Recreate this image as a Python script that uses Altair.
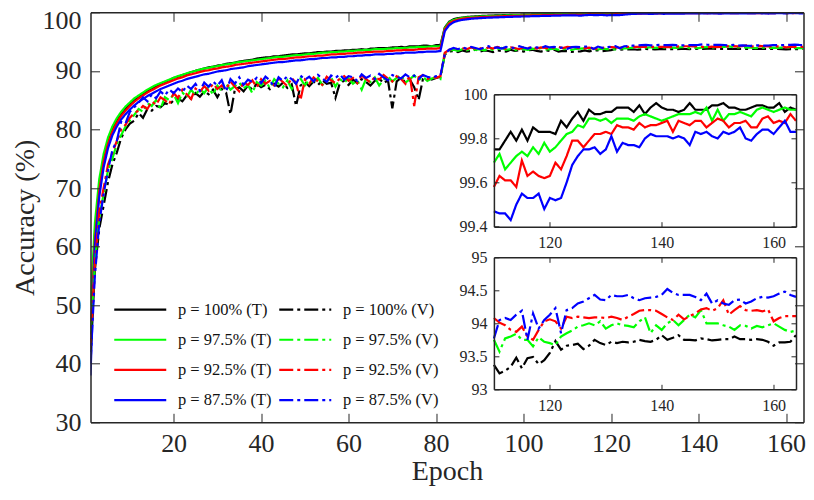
import altair as alt
import pandas as pd

FONT = "Liberation Serif"
AX = "#262626"

epochs = list(range(1, 165))
labels = ["p = 100% (T)", "p = 97.5% (T)", "p = 92.5% (T)", "p = 87.5% (T)",
          "p = 100% (V)", "p = 97.5% (V)", "p = 92.5% (V)", "p = 87.5% (V)"]
colors = ["#000000", "#00ff00", "#ff0000", "#0000ff"] * 2
dashes = [[1, 0]] * 4 + [[14, 4, 3, 4]] * 4

# ---------------- training accuracy ----------------
t100_a = [45.0, 62.0, 70.5, 75.0, 78.0, 80.0, 81.5, 82.6, 83.5, 84.3,
          85.0, 85.6, 86.1, 86.6, 87.0, 87.4, 87.8, 88.1, 88.4, 88.8,
          89.0, 89.3, 89.5, 89.8, 90.0, 90.2, 90.4, 90.6, 90.7, 90.9,
          91.0, 91.2, 91.3, 91.4, 91.6, 91.7, 91.8, 91.9, 92.1, 92.2,
          92.3, 92.3, 92.5, 92.5, 92.6, 92.7, 92.8, 92.8, 92.9, 93.0,
          93.0, 93.1, 93.2, 93.2, 93.3, 93.3, 93.4, 93.4, 93.5, 93.5,
          93.6, 93.6, 93.7, 93.6, 93.8, 93.8, 93.9, 93.9, 93.9, 94.0,
          94.0, 94.1, 94.0, 94.2, 94.2, 94.2, 94.3, 94.3, 94.2, 94.4,
          94.4]
t975_a = [50.0, 64.0, 71.5, 75.8, 78.6, 80.5, 81.9, 83.0, 83.9, 84.6,
          85.3, 85.8, 86.3, 86.8, 87.2, 87.6, 87.9, 88.2, 88.5, 88.8,
          89.1, 89.3, 89.6, 89.8, 90.0, 90.2, 90.4, 90.5, 90.7, 90.8,
          91.0, 91.1, 91.2, 91.4, 91.5, 91.6, 91.7, 91.8, 91.9, 92.0,
          92.1, 92.2, 92.3, 92.4, 92.4, 92.5, 92.6, 92.7, 92.7, 92.8,
          92.9, 92.9, 93.0, 93.1, 93.1, 93.2, 93.2, 93.3, 93.3, 93.4,
          93.4, 93.5, 93.5, 93.6, 93.6, 93.7, 93.7, 93.7, 93.8, 93.8,
          93.9, 93.9, 93.9, 94.0, 94.0, 94.1, 94.1, 94.1, 94.2, 94.2,
          94.2]
t925_a = [44.0, 61.0, 69.5, 74.5, 77.5, 79.6, 81.1, 82.3, 83.2, 84.0,
          84.7, 85.3, 85.8, 86.3, 86.7, 87.1, 87.5, 87.8, 88.1, 88.4,
          88.7, 88.9, 89.2, 89.4, 89.6, 89.8, 90.0, 90.1, 90.3, 90.4,
          90.6, 90.7, 90.8, 91.0, 91.1, 91.2, 91.3, 91.4, 91.5, 91.6,
          91.7, 91.8, 91.9, 92.0, 92.0, 92.1, 92.2, 92.3, 92.3, 92.4,
          92.5, 92.5, 92.6, 92.6, 92.7, 92.8, 92.8, 92.9, 92.9, 93.0,
          93.0, 93.1, 93.1, 93.2, 93.2, 93.3, 93.3, 93.3, 93.4, 93.4,
          93.5, 93.5, 93.6, 93.6, 93.6, 93.7, 93.7, 93.8, 93.8, 93.8,
          93.9]
t875_a = [38.0, 60.0, 68.5, 73.5, 76.8, 79.0, 80.5, 81.7, 82.6, 83.4,
          84.1, 84.7, 85.2, 85.7, 86.1, 86.5, 86.9, 87.2, 87.5, 87.8,
          88.1, 88.3, 88.6, 88.8, 89.0, 89.2, 89.4, 89.5, 89.7, 89.9,
          90.0, 90.1, 90.3, 90.4, 90.5, 90.6, 90.8, 90.9, 91.0, 91.1,
          91.2, 91.3, 91.4, 91.5, 91.5, 91.6, 91.7, 91.8, 91.8, 91.9,
          92.0, 92.0, 92.1, 92.2, 92.2, 92.3, 92.3, 92.4, 92.4, 92.5,
          92.5, 92.6, 92.6, 92.7, 92.7, 92.8, 92.8, 92.8, 92.9, 92.9,
          93.0, 93.0, 93.1, 93.1, 93.1, 93.2, 93.2, 93.3, 93.3, 93.3,
          93.4]

t100_b = [97.4, 98.4, 98.8, 99.0, 99.1, 99.2, 99.25, 99.3, 99.35, 99.4,
          99.42, 99.45, 99.48, 99.5, 99.52, 99.55, 99.56, 99.58, 99.6, 99.62,
          99.63, 99.65, 99.66, 99.68, 99.7, 99.71, 99.73, 99.74]
t975_b = [97.3, 98.3, 98.7, 98.9, 99.05, 99.12, 99.18, 99.23, 99.28, 99.32,
          99.35, 99.38, 99.41, 99.44, 99.46, 99.49, 99.51, 99.53, 99.55, 99.57,
          99.59, 99.61, 99.62, 99.64, 99.65, 99.67, 99.68, 99.69]
t925_b = [97.1, 98.1, 98.5, 98.75, 98.9, 99.0, 99.05, 99.1, 99.15, 99.2,
          99.23, 99.26, 99.29, 99.32, 99.35, 99.37, 99.39, 99.41, 99.43, 99.45,
          99.47, 99.49, 99.5, 99.52, 99.53, 99.55, 99.56, 99.57]
t875_b = [96.8, 97.8, 98.3, 98.55, 98.7, 98.8, 98.9, 98.95, 99.0, 99.05,
          99.08, 99.11, 99.14, 99.17, 99.2, 99.22, 99.25, 99.27, 99.29, 99.31,
          99.33, 99.35, 99.37, 99.39, 99.4, 99.42, 99.44, 99.46]

t100_c = [99.75, 99.75, 99.79, 99.83, 99.79, 99.84, 99.79, 99.85, 99.83, 99.83,
          99.83, 99.82, 99.88, 99.85, 99.89, 99.92, 99.88, 99.93, 99.91, 99.91,
          99.92, 99.92, 99.94, 99.94, 99.94, 99.92, 99.95, 99.91, 99.94, 99.96,
          99.94, 99.93, 99.93, 99.92, 99.93, 99.96, 99.93, 99.93, 99.93, 99.95,
          99.95, 99.96, 99.94, 99.94, 99.93, 99.93, 99.94, 99.95, 99.95, 99.94,
          99.94, 99.96, 99.92, 99.94, 99.93]
t975_c = [99.69, 99.73, 99.66, 99.69, 99.72, 99.74, 99.72, 99.76, 99.73, 99.78,
          99.74, 99.76, 99.79, 99.82, 99.83, 99.86, 99.85, 99.89, 99.89, 99.88,
          99.89, 99.87, 99.89, 99.89, 99.89, 99.88, 99.90, 99.91, 99.90, 99.89,
          99.88, 99.89, 99.90, 99.91, 99.91, 99.91, 99.92, 99.91, 99.94, 99.88,
          99.93, 99.88, 99.91, 99.91, 99.92, 99.91, 99.90, 99.93, 99.94, 99.93,
          99.92, 99.93, 99.94, 99.93, 99.93]
t925_c = [99.58, 99.63, 99.61, 99.61, 99.58, 99.70, 99.63, 99.65, 99.63, 99.62,
          99.63, 99.69, 99.66, 99.72, 99.79, 99.79, 99.76, 99.79, 99.82, 99.82,
          99.83, 99.82, 99.86, 99.85, 99.85, 99.84, 99.87, 99.85, 99.86, 99.86,
          99.87, 99.88, 99.83, 99.88, 99.87, 99.86, 99.88, 99.88, 99.85, 99.87,
          99.89, 99.88, 99.85, 99.87, 99.87, 99.88, 99.85, 99.85, 99.89, 99.90,
          99.87, 99.88, 99.87, 99.91, 99.88]
t875_c = [99.47, 99.46, 99.46, 99.43, 99.50, 99.55, 99.53, 99.53, 99.55, 99.48,
          99.53, 99.52, 99.53, 99.60, 99.68, 99.72, 99.75, 99.75, 99.76, 99.73,
          99.75, 99.81, 99.74, 99.78, 99.77, 99.77, 99.76, 99.80, 99.82, 99.81,
          99.81, 99.81, 99.80, 99.81, 99.80, 99.77, 99.83, 99.82, 99.83, 99.81,
          99.80, 99.83, 99.82, 99.83, 99.85, 99.80, 99.79, 99.82, 99.84, 99.84,
          99.82, 99.85, 99.88, 99.83, 99.83]

# ---------------- validation accuracy ----------------
v100_a = [42.0, 56.0, 63.0, 67.0, 71.0, 74.0, 76.0, 78.5, 80.0, 81.0,
          81.5, 82.8, 82.0, 83.5, 83.2, 84.0, 83.8, 84.5, 84.2, 85.0,
          85.3, 84.8, 85.8, 85.2, 86.2, 85.6, 86.5, 86.0, 86.8, 85.5,
          86.9, 86.3, 82.6, 86.8, 87.2, 86.5, 87.5, 86.8, 87.8, 87.2,
          87.6, 86.9, 87.8, 87.3, 88.0, 87.1, 87.7, 84.0, 87.5, 88.1,
          87.4, 88.2, 87.6, 88.4, 87.8, 88.0, 85.4, 87.9, 88.3, 87.6,
          88.5, 87.9, 88.6, 88.1, 87.5, 88.3, 88.7, 87.9, 88.4, 83.6,
          88.2, 88.8, 88.0, 88.5, 87.2, 85.0, 88.6, 88.9, 88.5, 88.8,
          89.0]
v975_a = [45.0, 57.0, 65.0, 69.0, 73.0, 75.0, 77.5, 79.0, 80.5, 81.5,
          82.5, 83.5, 83.0, 84.5, 84.0, 85.0, 83.5, 85.5, 85.0, 86.0,
          84.5, 86.3, 85.5, 86.8, 85.8, 87.0, 86.2, 87.3, 85.9, 87.5,
          86.5, 87.8, 86.8, 87.4, 88.0, 87.0, 87.6, 86.2, 88.1, 87.5,
          88.3, 87.1, 88.6, 87.8, 87.2, 88.4, 86.9, 88.2, 88.7, 87.5,
          88.5, 87.9, 88.8, 87.6, 88.2, 88.9, 87.3, 88.6, 88.0, 88.7,
          87.8, 88.4, 86.8, 88.7, 88.1, 88.9, 87.5, 88.5, 89.1, 88.2,
          88.8, 89.3, 88.0, 88.6, 89.2, 88.4, 89.0, 88.3, 88.7, 88.9,
          88.6]
v925_a = [43.0, 57.0, 66.0, 70.0, 74.0, 76.0, 78.0, 80.0, 80.8, 82.0,
          82.8, 83.2, 84.0, 83.5, 84.8, 84.2, 85.5, 85.0, 84.3, 86.2,
          85.4, 86.8, 86.0, 85.2, 87.0, 86.4, 87.4, 86.6, 87.8, 86.9,
          87.5, 86.8, 88.2, 87.3, 86.5, 88.0, 87.6, 88.4, 87.2, 88.6,
          87.8, 88.3, 87.5, 88.7, 88.1, 87.4, 88.8, 87.9, 85.0, 88.5,
          87.8, 88.9, 88.2, 87.6, 89.0, 88.4, 87.9, 88.7, 89.1, 88.3,
          88.8, 87.9, 89.2, 88.6, 88.0, 89.0, 88.5, 89.3, 88.7, 88.2,
          89.1, 88.6, 87.8, 89.2, 84.0, 88.9, 89.3, 88.6, 89.0, 88.8,
          89.1]
v875_a = [40.0, 55.0, 64.0, 69.0, 73.0, 76.5, 78.0, 81.3, 81.0, 83.0,
          83.8, 84.6, 85.5, 84.8, 86.0, 85.3, 86.5, 85.8, 86.8, 86.2,
          87.0, 86.4, 87.5, 86.9, 87.8, 86.6, 88.0, 87.3, 88.2, 87.5,
          88.4, 86.5, 88.6, 87.8, 88.9, 87.6, 88.5, 88.1, 88.8, 87.9,
          89.0, 88.4, 87.2, 88.9, 88.3, 89.1, 88.6, 87.8, 89.2, 88.5,
          89.0, 88.2, 89.3, 88.7, 88.1, 89.2, 88.8, 89.4, 88.5, 89.1,
          88.9, 88.3, 89.4, 88.8, 89.2, 88.6, 89.5, 88.9, 88.4, 89.3,
          89.0, 88.7, 89.4, 88.9, 89.2, 88.6, 89.3, 89.0, 88.8, 89.1,
          89.2]

v100_b = [92.8, 93.3, 93.4, 93.2, 93.5, 93.3, 93.4, 93.6, 93.3, 93.5,
          93.4, 93.2, 93.5, 93.4, 93.3, 93.6, 93.4, 93.5, 93.3, 93.5,
          93.6, 93.4, 93.3, 93.5, 93.4, 93.6, 93.3, 93.4]
v975_b = [93.0, 93.5, 93.6, 93.4, 93.7, 93.5, 93.8, 93.6, 93.7, 93.5,
          93.8, 93.6, 93.7, 93.9, 93.6, 93.7, 93.5, 93.8, 93.7, 93.6,
          93.8, 93.7, 93.9, 93.6, 93.7, 93.8, 93.6, 93.7]
v925_b = [93.1, 93.6, 93.8, 93.7, 93.9, 93.7, 94.0, 93.8, 93.9, 93.7,
          94.0, 93.8, 94.1, 93.9, 93.8, 94.0, 93.9, 93.7, 94.0, 93.9,
          94.1, 93.8, 94.0, 93.9, 93.8, 94.0, 94.1, 93.9]
v875_b = [92.9, 93.6, 93.9, 93.7, 94.0, 93.8, 94.1, 93.9, 93.7, 94.0,
          94.2, 93.9, 94.0, 93.8, 94.1, 94.0, 93.9, 94.2, 94.0, 93.8,
          94.1, 94.0, 93.9, 94.2, 94.0, 94.1, 93.9, 94.0]

v100_c = [93.37, 93.24, 93.28, 93.34, 93.48, 93.32, 93.47, 93.49, 93.38, 93.44,
          93.55, 93.73, 93.60, 93.66, 93.67, 93.69, 93.61, 93.66, 93.75, 93.70,
          93.67, 93.72, 93.70, 93.72, 93.71, 93.72, 93.75, 93.73, 93.72, 93.75,
          93.82, 93.75, 93.78, 93.82, 93.75, 93.75, 93.74, 93.77, 93.76, 93.74,
          93.75, 93.76, 93.76, 93.80, 93.76, 93.76, 93.75, 93.76, 93.75, 93.72,
          93.66, 93.71, 93.71, 93.72, 93.82]
v975_c = [93.75, 93.57, 93.77, 93.80, 93.84, 93.75, 93.75, 93.65, 93.79, 93.72,
          93.70, 93.67, 93.80, 93.85, 93.89, 93.95, 93.97, 94.00, 93.97, 94.03,
          93.92, 93.97, 94.00, 93.97, 93.96, 93.94, 94.03, 94.09, 93.85, 93.97,
          93.90, 94.00, 94.05, 93.97, 94.05, 94.13, 94.09, 94.20, 94.00, 94.00,
          94.00, 93.97, 93.95, 93.90, 93.97, 93.96, 93.92, 93.96, 93.94, 93.97,
          94.00, 93.95, 93.90, 93.87, 93.89]
v925_c = [94.08, 94.01, 93.97, 93.90, 93.87, 93.95, 93.80, 93.75, 93.90, 94.03,
          94.06, 94.03, 93.92, 94.10, 94.08, 94.10, 94.09, 94.08, 94.09, 94.09,
          94.08, 94.10, 94.08, 94.05, 94.10, 94.14, 94.19, 94.20, 94.20, 94.19,
          94.14, 94.09, 94.05, 94.13, 94.06, 94.11, 94.15, 94.21, 94.23, 94.19,
          94.23, 94.35, 94.13, 94.20, 94.26, 94.20, 94.19, 94.20, 94.18, 94.21,
          94.03, 94.08, 94.11, 94.11, 94.11]
v875_c = [93.77, 94.05, 94.08, 94.05, 94.13, 94.19, 93.75, 94.15, 93.92, 94.05,
          94.13, 94.23, 93.85, 94.20, 94.23, 94.30, 94.33, 94.38, 94.43, 94.36,
          94.35, 94.43, 94.41, 94.41, 94.43, 94.38, 94.35, 94.38, 94.39, 94.40,
          94.43, 94.52, 94.46, 94.43, 94.43, 94.43, 94.40, 94.35, 94.45, 94.30,
          94.35, 94.30, 94.28, 94.35, 94.36, 94.30, 94.33, 94.38, 94.40, 94.39,
          94.41, 94.45, 94.48, 94.43, 94.40]

series = {
    "p = 100% (T)": t100_a + t100_b + t100_c,
    "p = 97.5% (T)": t975_a + t975_b + t975_c,
    "p = 92.5% (T)": t925_a + t925_b + t925_c,
    "p = 87.5% (T)": t875_a + t875_b + t875_c,
    "p = 100% (V)": v100_a + v100_b + v100_c,
    "p = 97.5% (V)": v975_a + v975_b + v975_c,
    "p = 92.5% (V)": v925_a + v925_b + v925_c,
    "p = 87.5% (V)": v875_a + v875_b + v875_c,
}

main_ticks_x = [20, 40, 60, 80, 100, 120, 140, 160]
main_ticks_y = [30, 40, 50, 60, 70, 80, 90, 100]
inset_ticks_x = [120, 140, 160]
top_ticks_y = [99.4, 99.6, 99.8, 100]
bot_ticks_y = [93, 93.5, 94, 94.5, 95]

rows = []
for lab, vals in series.items():
    for e, v in zip(epochs, vals):
        rows.append({"epoch": e, "acc": v, "series": lab, "kind": lab[-2]})
df = pd.DataFrame(rows)
df_top = df[(df["epoch"] >= 110) & (df["kind"] == "T")]
df_bot = df[(df["epoch"] >= 110) & (df["kind"] == "V")]

# ---------------- layout (pixels, relative to plot area) ----------------
W, H = 713, 410
IX = [403.4, 705.5]
TY = [214.4, 82.0]
BY = [377.0, 245.0]

legend = alt.Legend(title=None, orient="none", legendX=41.5, legendY=289, columns=2,
                    symbolType="M-4,0H4", symbolSize=169, symbolStrokeWidth=2.2,
                    labelFont=FONT, labelFontSize=16.5, labelColor="#111111",
                    labelOffset=29.5, rowPadding=13.2, columnPadding=2, padding=0)
color = alt.Color("series:N", scale=alt.Scale(domain=labels, range=colors), legend=legend)
dash = alt.StrokeDash("series:N", scale=alt.Scale(domain=labels, range=dashes), legend=legend)


def scale(dom, rng):
    return alt.Scale(domain=dom, range=rng, nice=False, zero=False)


def tick_axis(orient, offset, values, size):
    return alt.Axis(orient=orient, offset=offset, values=values, labels=False,
                    ticks=True, tickSize=size, tickColor=AX, tickWidth=1,
                    domain=True, domainColor=AX, domainWidth=1.5, grid=False, zindex=1)


def label_axis(orient, offset, values, fs, pad, **kw):
    return alt.Axis(orient=orient, offset=offset, values=values, labels=True,
                    ticks=False, tickSize=0, domain=False, grid=False,
                    labelFont=FONT, labelFontSize=fs, labelColor=AX,
                    labelPadding=pad, format="~f", zindex=1, **kw)


def frame_layer(dom_x, dom_y, rng_x, rng_y, ax_x, ax_y, white):
    base = alt.Chart(df.head(1))
    m = base.mark_rect(fill="white", strokeWidth=0) if white else base.mark_rect(opacity=0)
    return m.encode(
        x=alt.X(datum=dom_x[0], type="quantitative", scale=scale(dom_x, rng_x), axis=ax_x, title=None),
        x2=alt.X2(datum=dom_x[1]),
        y=alt.Y(datum=dom_y[0], type="quantitative", scale=scale(dom_y, rng_y), axis=ax_y, title=None),
        y2=alt.Y2(datum=dom_y[1]),
    )


MX, MY = [1, 164], [30, 100]
RX, RY = [0, W], [H, 0]

main_lines = alt.Chart(df).mark_line(strokeWidth=2.2, clip=True).encode(
    x=alt.X("epoch:Q", scale=scale(MX, RX),
            axis=label_axis("bottom", 0, main_ticks_x, 26, 8, title="Epoch",
                            titleFont=FONT, titleFontSize=28, titleFontWeight="normal",
                            titleColor=AX, titleBaseline="alphabetic", titleY=57.5)),
    y=alt.Y("acc:Q", scale=scale(MY, RY),
            axis=label_axis("left", 0, main_ticks_y, 26, 9.5, title="Accuracy (%)",
                            labelOffset={"condition": {"test": "datum.value == 100", "value": 8},
                                         "value": 0},
                            titleFont=FONT, titleFontSize=28, titleFontWeight="normal",
                            titleColor=AX, titleBaseline="alphabetic", titleAngle=270,
                            titleX=-57, titleY=205)),
    color=color, strokeDash=dash, detail="series:N", order="epoch:Q",
)
main_a = frame_layer(MX, MY, RX, RY, tick_axis("top", -H, main_ticks_x, 9),
                     tick_axis("right", -W, main_ticks_y, 9), False)
main_b = frame_layer(MX, MY, RX, RY, tick_axis("bottom", -H, main_ticks_x, 9),
                     tick_axis("left", -W, main_ticks_y, 9), False)


def inset(data, dom_y, rng_y, yticks):
    dom_x = [110, 164]
    a = frame_layer(dom_x, dom_y, IX, rng_y,
                    tick_axis("top", -rng_y[0], inset_ticks_x, 5),
                    tick_axis("right", IX[0] - W, yticks, 5), True)
    lines = alt.Chart(data).mark_line(strokeWidth=2.2, clip=True).encode(
        x=alt.X("epoch:Q", scale=scale(dom_x, IX), title=None,
                axis=label_axis("bottom", rng_y[0] - H, inset_ticks_x, 16, 8)),
        y=alt.Y("acc:Q", scale=scale(dom_y, rng_y), title=None,
                axis=label_axis("left", -IX[0], yticks, 16, 7)),
        color=color, strokeDash=dash, detail="series:N", order="epoch:Q",
    )
    b = frame_layer(dom_x, dom_y, IX, rng_y,
                    tick_axis("bottom", rng_y[1] - H, inset_ticks_x, 5),
                    tick_axis("left", -IX[1], yticks, 5), False)
    return [a, lines, b]


layers = [main_lines, main_a, main_b] + inset(df_top, [99.4, 100], TY, top_ticks_y) \
    + inset(df_bot, [93, 95], BY, bot_ticks_y)

chart = alt.layer(*layers).resolve_scale(x="independent", y="independent").properties(
    width=W, height=H,
    padding={"left": 82.5, "top": 4.3, "right": 2.5, "bottom": 64},
    autosize=alt.AutoSizeParams(type="none"),
).configure_view(strokeWidth=0)

chart.save("out.html", embed_options={"renderer": "svg", "actions": False})
